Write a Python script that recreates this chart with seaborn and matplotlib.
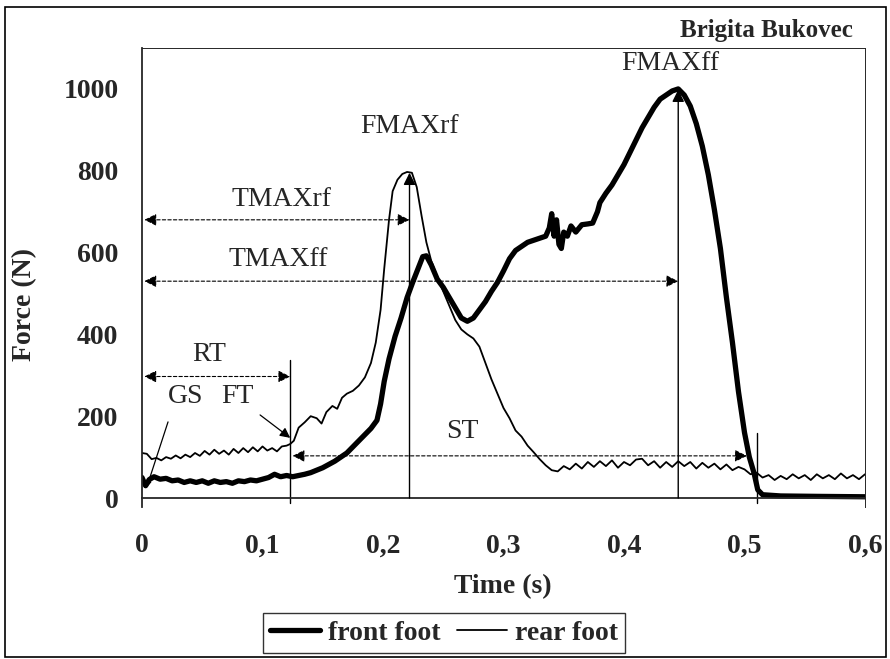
import matplotlib
matplotlib.use("Agg")
import matplotlib.pyplot as plt
import seaborn as sns
import pandas as pd
from matplotlib.patches import Rectangle

# ─── Data ─────────────────────────────────────────────────────────────────────
rear_t = [0.000, 0.004, 0.008, 0.012, 0.016, 0.020, 0.024, 0.028, 0.032, 0.036,
          0.040, 0.044, 0.048, 0.052, 0.056, 0.060, 0.064, 0.068, 0.072, 0.076,
          0.080, 0.084, 0.088, 0.092, 0.096, 0.100, 0.104, 0.108, 0.112, 0.116,
          0.120, 0.123, 0.126, 0.130, 0.135, 0.140, 0.145, 0.149, 0.153, 0.158,
          0.162, 0.166, 0.170, 0.175, 0.180, 0.185, 0.190, 0.194, 0.198, 0.201,
          0.205, 0.208, 0.212, 0.216, 0.220, 0.224, 0.228, 0.232, 0.236, 0.240,
          0.245, 0.250, 0.255, 0.260, 0.265, 0.270, 0.275, 0.280, 0.285, 0.290,
          0.295, 0.300, 0.305, 0.310, 0.315, 0.320, 0.325, 0.330, 0.335, 0.340,
          0.345, 0.350, 0.355, 0.360, 0.365, 0.370, 0.375, 0.380, 0.385, 0.390,
          0.395, 0.400, 0.405, 0.410, 0.415, 0.420, 0.425, 0.430, 0.435, 0.440,
          0.445, 0.450, 0.455, 0.460, 0.465, 0.470, 0.475, 0.480, 0.485, 0.490,
          0.495, 0.500, 0.505, 0.510, 0.515, 0.520, 0.525, 0.530, 0.535, 0.540,
          0.545, 0.550, 0.555, 0.560, 0.565, 0.570, 0.575, 0.580, 0.585, 0.590,
          0.595, 0.600]
rear_f = [110, 108, 95, 98, 92, 100, 96, 104, 97, 106,
          100, 110, 103, 115, 106, 118, 108, 116, 106, 120,
          110, 122, 112, 124, 114, 126, 116, 122, 114, 126,
          128, 132, 140, 172, 185, 200, 195, 182, 210, 225,
          218, 245, 255, 262, 275, 295, 330, 380, 460, 560,
          680, 750, 778, 792, 797, 795, 760, 690, 625, 580,
          540, 505, 470, 435, 412, 400, 390, 370, 330, 290,
          255, 220, 195, 165, 150, 128, 112, 95, 80, 68,
          65, 78, 70, 84, 72, 88, 76, 90, 78, 92,
          74, 88, 80, 94, 96, 80, 90, 74, 88, 76,
          90, 78, 88, 72, 86, 74, 84, 70, 82, 68,
          76, 70, 58, 62, 50, 56, 44, 54, 46, 58,
          48, 56, 44, 58, 48, 56, 46, 60, 48, 56,
          46, 58]

front_t = [0.000, 0.003, 0.006, 0.010, 0.015, 0.020, 0.025, 0.030, 0.035, 0.040,
           0.045, 0.050, 0.055, 0.060, 0.065, 0.070, 0.075, 0.080, 0.085, 0.090,
           0.095, 0.100, 0.105, 0.110, 0.115, 0.120, 0.125, 0.130, 0.135, 0.140,
           0.145, 0.150, 0.155, 0.160, 0.165, 0.170, 0.175, 0.180, 0.185, 0.190,
           0.195, 0.198, 0.201, 0.205, 0.210, 0.215, 0.220, 0.225, 0.229, 0.233,
           0.236, 0.240, 0.245, 0.250, 0.255, 0.260, 0.265, 0.270, 0.275, 0.280,
           0.285, 0.290, 0.295, 0.300, 0.305, 0.310, 0.315, 0.320, 0.325, 0.330,
           0.335, 0.338, 0.340, 0.342, 0.344, 0.346, 0.348, 0.350, 0.353, 0.356,
           0.360, 0.365, 0.370, 0.374, 0.378, 0.380, 0.385, 0.390, 0.395, 0.400,
           0.405, 0.410, 0.415, 0.420, 0.425, 0.430, 0.435, 0.440, 0.445, 0.450,
           0.455, 0.460, 0.465, 0.470, 0.475, 0.480, 0.485, 0.490, 0.495, 0.500,
           0.504, 0.508, 0.511, 0.515, 0.530, 0.560, 0.600]
front_f = [50, 30, 45, 52, 46, 48, 42, 44, 38, 42,
           38, 42, 36, 42, 38, 40, 36, 42, 40, 44,
           42, 46, 50, 58, 52, 55, 52, 55, 58, 62,
           68, 74, 82, 90, 100, 110, 125, 140, 155, 170,
           190, 230, 285, 340, 395, 440, 490, 530, 560, 590,
           592, 570, 535, 515, 490, 465, 440, 432, 440, 460,
           480, 505, 527, 555, 585, 605, 615, 625, 630, 635,
           640, 660, 695, 640, 680, 620, 610, 650, 640, 665,
           650, 668, 670, 672, 700, 722, 745, 765, 790, 815,
           845, 875, 905, 930, 955, 975, 985, 995, 1000, 985,
           958, 915, 860, 790, 705, 610, 490, 380, 260, 160,
           100, 60, 20, 8, 5, 4, 3]

x_ticks = [0, 0.1, 0.2, 0.3, 0.4, 0.5, 0.6]
x_labels = ["0", "0,1", "0,2", "0,3", "0,4", "0,5", "0,6"]
y_ticks = [0, 200, 400, 600, 800, 1000]

# key instants (s) and levels (N) marked on the chart
T_FT = 0.123
T_MAXRF, F_MAXRF = 0.222, 795
T_MAXFF, F_MAXFF = 0.445, 998
T_END = 0.510

rear = pd.DataFrame({"t": rear_t, "F": rear_f})
front = pd.DataFrame({"t": front_t, "F": front_f})

# ─── Style ────────────────────────────────────────────────────────────────────
sns.set_style("white")
plt.rcParams["font.family"] = ["Liberation Serif", "DejaVu Serif"]
FS = 20

fig = plt.figure(figsize=(8.9, 6.59), dpi=100)
ax = fig.add_axes([142 / 890, 1 - 507 / 659, (865 - 142) / 890, (507 - 48) / 659])

sns.lineplot(data=front, x="t", y="F", ax=ax, color="black", lw=3.8,
             label="front foot", sort=False)
sns.lineplot(data=rear, x="t", y="F", ax=ax, color="black", lw=1.3,
             label="rear foot", sort=False)

# x axis sits on F = 0 (set before the tick styling, it resets the ticks)
ax.spines["bottom"].set_position(("data", 0))
ax.set_xlim(0, 0.6)
ax.set_ylim(-22, 1100)
ax.set_xticks(x_ticks)
ax.set_xticklabels(x_labels, fontsize=FS, fontweight="bold")
ax.set_yticks(y_ticks)
ax.set_yticklabels([str(v) for v in y_ticks], fontsize=FS, fontweight="bold")
for s in ("top", "right"):
    ax.spines[s].set_linewidth(0.7)
for s in ("left", "bottom"):
    ax.spines[s].set_linewidth(1.3)
ax.tick_params(axis="x", direction="inout", length=11, width=1.2, pad=20)
ax.tick_params(axis="y", direction="inout", length=8, width=0.8, pad=13)
ax.set_xlabel("")
ax.set_ylabel("")
fig.text(503 / 890, 1 - 587 / 659, "Time (s)", ha="center", va="center",
         fontsize=FS, fontweight="bold")
fig.text(25 / 890, 1 - 305 / 659, "Force (N)", ha="center", va="center",
         rotation=90, fontsize=FS, fontweight="bold")
fig.text(853 / 890, 1 - 30 / 659, "Brigita Bukovec", ha="right", va="center",
         fontsize=18, fontweight="bold")

# ─── Annotations ──────────────────────────────────────────────────────────────
head = dict(color="black", shrinkA=0, shrinkB=0, mutation_scale=18)

# vertical markers at the force peaks
ax.annotate("", xy=(T_MAXRF, F_MAXRF), xytext=(T_MAXRF, 0),
            arrowprops=dict(arrowstyle="-|>", lw=1.0, **head))
ax.annotate("", xy=(T_MAXFF, F_MAXFF), xytext=(T_MAXFF, 0),
            arrowprops=dict(arrowstyle="-|>", lw=1.0, **head))
ax.plot([T_FT, T_FT], [-12, 338], color="black", lw=1.0)
ax.plot([T_END, T_END], [-12, 160], color="black", lw=1.0)

# dashed time intervals
intervals = [(0.0, T_MAXRF, 680), (0.0, T_MAXFF, 530),
             (0.0, T_FT, 297), (T_FT, 0.502, 103)]
for x0, x1, y in intervals:
    ax.annotate("", xy=(x1, y), xytext=(x0 + 0.002, y),
                arrowprops=dict(arrowstyle="<|-|>", lw=0.8, ls=(0, (3, 2)), **head))

# pointers
ax.annotate("", xy=(T_FT, 147), xytext=(0.098, 203),
            arrowprops=dict(arrowstyle="-|>", lw=0.9, color="black",
                            shrinkA=0, shrinkB=0, mutation_scale=15))
ax.annotate("", xy=(0.004, 27), xytext=(0.0216, 186),
            arrowprops=dict(arrowstyle="-|>", lw=0.9, color="black",
                            shrinkA=0, shrinkB=0, mutation_scale=8))

labels = [("FMAXrf", 0.222, 909), ("FMAXff", 0.438, 1061),
          ("TMAXrf", 0.116, 730), ("TMAXff", 0.113, 583),
          ("RT", 0.056, 350), ("GS", 0.036, 248), ("FT", 0.079, 248),
          ("ST", 0.266, 162)]
for txt, x, y in labels:
    ax.text(x, y, txt, ha="center", va="center", fontsize=FS)

# ─── Legend & outer frame ─────────────────────────────────────────────────────
ax.get_legend().remove()
handles, names = ax.get_legend_handles_labels()
leg = fig.legend(handles, names, loc="center", bbox_to_anchor=(444 / 890, 1 - 633 / 659),
                 ncol=2, frameon=True, fancybox=False, handlelength=1.8,
                 handletextpad=0.3, columnspacing=0.6, borderpad=0.25,
                 prop={"size": FS, "weight": "bold"})
leg.get_frame().set_edgecolor("black")
leg.get_frame().set_linewidth(1.0)

fig.patches.append(Rectangle((5 / 890, 2 / 659), 881 / 890, 650 / 659,
                             transform=fig.transFigure, fill=False,
                             edgecolor="black", lw=1.2))

fig.savefig("out.png", dpi=100)
